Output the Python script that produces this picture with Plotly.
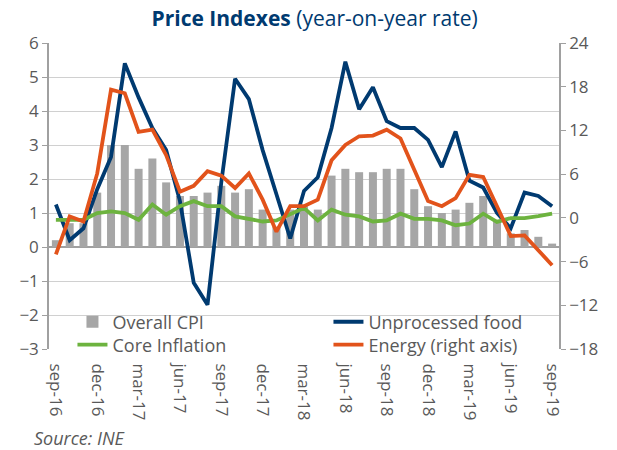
import plotly.graph_objects as go

# monthly sep-16 .. sep-19
months = ["sep-16", "oct-16", "nov-16", "dec-16", "jan-17", "feb-17", "mar-17", "apr-17",
          "may-17", "jun-17", "jul-17", "aug-17", "sep-17", "oct-17", "nov-17", "dec-17",
          "jan-18", "feb-18", "mar-18", "apr-18", "may-18", "jun-18", "jul-18", "aug-18",
          "sep-18", "oct-18", "nov-18", "dec-18", "jan-19", "feb-19", "mar-19", "apr-19",
          "may-19", "jun-19", "jul-19", "aug-19", "sep-19"]

overall_cpi = [0.2, 0.7, 0.7, 1.6, 3.0, 3.0, 2.3, 2.6, 1.9, 1.5, 1.5, 1.6, 1.8, 1.6, 1.7, 1.1,
               0.6, 1.1, 1.2, 1.1, 2.1, 2.3, 2.2, 2.2, 2.3, 2.3, 1.7, 1.2, 1.0, 1.1, 1.3, 1.5,
               0.8, 0.4, 0.5, 0.3, 0.1]

unprocessed_food = [1.25, 0.2, 0.55, 1.7, 2.65, 5.4, 4.4, 3.5, 2.85, 1.35, -1.05, -1.7, 1.9,
                    4.95, 4.35, 2.85, 1.55, 0.25, 1.65, 2.05, 3.5, 5.45, 4.05, 4.7, 3.7, 3.5,
                    3.5, 3.15, 2.35, 3.4, 1.95, 1.75, 1.0, 0.55, 1.6, 1.5, 1.2]

core_inflation = [0.8, 0.8, 0.8, 1.0, 1.05, 1.0, 0.8, 1.25, 0.95, 1.2, 1.35, 1.2, 1.2, 0.9,
                  0.82, 0.75, 0.78, 0.95, 1.15, 0.78, 1.1, 0.95, 0.9, 0.75, 0.78, 0.98, 0.83,
                  0.83, 0.78, 0.64, 0.69, 0.98, 0.74, 0.85, 0.85, 0.91, 0.98]

energy = [-5.0, 0.2, -0.5, 6.1, 17.6, 17.1, 11.8, 12.1, 8.6, 3.6, 4.4, 6.4, 5.8, 4.1, 6.1,
          2.5, -1.9, 1.6, 1.6, 2.5, 7.9, 10.0, 11.2, 11.3, 12.1, 10.9, 6.6, 2.3, 1.6, 2.7,
          5.9, 5.6, 1.6, -2.5, -2.4, -4.4, -6.5]

x_idx = list(range(len(months)))
label_idx = x_idx[::3]
label_txt = months[::3]

NAVY = "#003a70"
ORANGE = "#e2531b"
GREEN = "#6db33f"
GREY = "#a6a6a6"
TXT = "#595959"
AXIS = "#a0a0a0"
FONT = "Open Sans"

fig = go.Figure()
fig.add_trace(go.Bar(x=x_idx, y=overall_cpi, name="Overall CPI", marker_color=GREY,
                     marker_line_width=0, width=0.58, legend="legend"))
fig.add_trace(go.Scatter(x=x_idx, y=unprocessed_food, name="Unprocessed food", mode="lines",
                         line=dict(color=NAVY, width=3.8), legend="legend"))
fig.add_trace(go.Scatter(x=x_idx, y=core_inflation, name="Core Inflation", mode="lines",
                         line=dict(color=GREEN, width=3.8), legend="legend2"))
fig.add_trace(go.Scatter(x=x_idx, y=energy, name="Energy (right axis)", mode="lines",
                         line=dict(color=ORANGE, width=3.8), yaxis="y2", legend="legend2"))

# two single-row legends -> 2x2 grid like the original
leg = dict(orientation="h", x=0.046, xanchor="left", yanchor="middle",
           entrywidth=211, entrywidthmode="pixels", bgcolor="rgba(0,0,0,0)",
           font=dict(family=FONT, size=18, color=TXT), tracegroupgap=0)

# page body has an 8px margin, so the paper is laid out 8px up/left of the window
fig.update_layout(
    width=617, height=450,
    margin=dict(l=41, r=66, t=35, b=109),
    plot_bgcolor="white", paper_bgcolor="white",
    font=dict(family=FONT, size=16, color=TXT),
    title=dict(text="<b>Price Indexes</b> (year-on-year rate)", x=0.497, xanchor="center",
               y=1.0, yanchor="top", pad=dict(t=3),
               font=dict(family=FONT, size=21, color=NAVY)),
    showlegend=True,
    legend=dict(leg, y=0.088),
    legend2=dict(leg, y=0.013),
    xaxis=dict(range=[-0.5, len(months) - 0.5], tickvals=label_idx, ticktext=label_txt,
               tickangle=90, ticks="outside", ticklen=10, tickcolor="rgba(0,0,0,0)",
               showgrid=False, zeroline=False, showline=False,
               tickfont=dict(family=FONT, size=17, color=TXT)),
    xaxis2=dict(matches="x", overlaying="x", anchor="free", position=1 / 3,
                tickvals=[i + 0.5 for i in x_idx[:-1]], ticks="outside", ticklen=5,
                tickcolor=AXIS, showticklabels=False, showgrid=False,
                zeroline=False, showline=False),
    yaxis=dict(range=[-3, 6], dtick=1, showgrid=True, gridcolor="#d0d0d0", gridwidth=1,
               zeroline=True, zerolinecolor=AXIS, zerolinewidth=1.5,
               showline=True, linecolor=AXIS, linewidth=1.5, ticks="outside",
               ticklen=5, tickcolor=AXIS, tickfont=dict(family=FONT, size=17, color=TXT)),
    yaxis2=dict(range=[-18, 24], dtick=6, overlaying="y", side="right", showgrid=False,
                zeroline=False, showline=True, linecolor=AXIS, linewidth=1.5,
                ticks="outside", ticklen=5, tickcolor=AXIS,
                tickfont=dict(family=FONT, size=17, color=TXT)),
)

fig.add_annotation(text="<i>Source: INE</i>", xref="paper", yref="paper", x=-0.033, y=-0.292,
                   xanchor="left", yanchor="middle", showarrow=False,
                   font=dict(family=FONT, size=18, color=TXT))

fig.write_html("out.html")
